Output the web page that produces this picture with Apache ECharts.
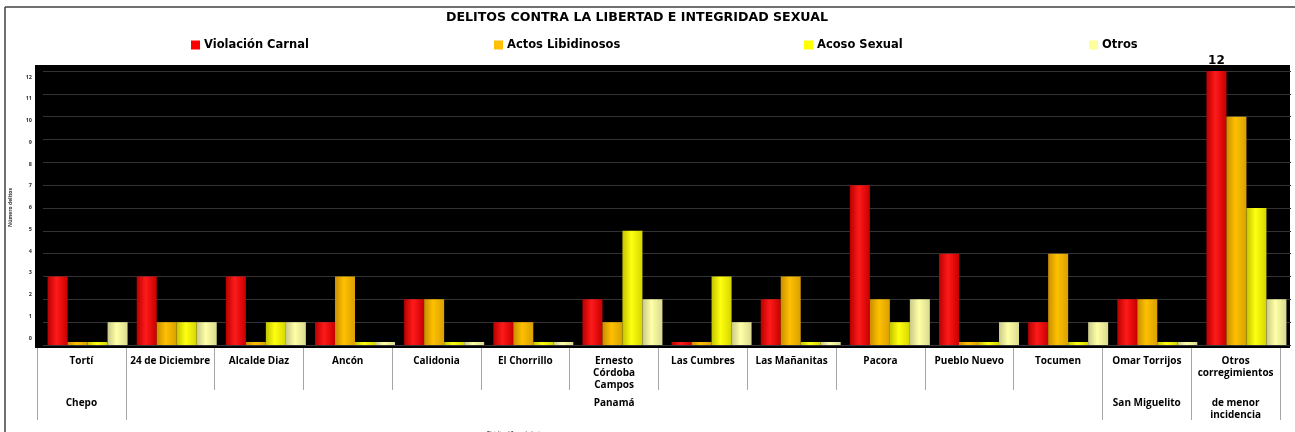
<!DOCTYPE html>
<html>
<head>
<meta charset="utf-8">
<script src="https://cdn.jsdelivr.net/npm/echarts@6/dist/echarts.min.js"></script>
<style>
  html, body { margin: 0; padding: 0; background: #fff; }
  #chart { width: 1295px; height: 432px; }
</style>
</head>
<body>
<div id="chart"></div>
<script>
const categories = ['Tortí', '24 de Diciembre', 'Alcalde Diaz', 'Ancón', 'Calidonia', 'El Chorrillo', 'Ernesto\nCórdoba\nCampos', 'Las Cumbres', 'Las Mañanitas', 'Pacora', 'Pueblo Nuevo', 'Tocumen', 'Omar Torrijos', 'Otros\ncorregimientos']
const districts = ['Chepo', '', '', '', '', '', 'Panamá', '', '', '', '', '', 'San Miguelito', 'de menor\nincidencia']
const districtBreaks = [0, 1, 12, 13]
const violacion = [3, 3, 3, 1, 2, 1, 2, 0, 2, 7, 4, 1, 2, 12]
const actos = [0, 1, 0, 3, 2, 1, 1, 0, 3, 2, 0, 4, 2, 10]
const acoso = [0, 1, 1, 0, 0, 0, 5, 3, 0, 1, 0, 0, 0, 6]
const otros = [1, 1, 1, 0, 0, 0, 2, 1, 0, 2, 1, 1, 0, 2]
const yTicks = [0, 12, 1]

const FONT = '"Open Sans", "Liberation Sans", sans-serif'
const WIDE = '"DejaVu Sans", Verdana, sans-serif'

const cylinder = (edge, mid, edge2) => new echarts.graphic.LinearGradient(0, 0, 1, 0, [
  { offset: 0, color: edge },
  { offset: 0.45, color: mid },
  { offset: 1, color: edge2 }
])

const seriesDefs = [
  { name: 'Violación Carnal', data: violacion, flat: '#ff0000', fill: cylinder('#b80000', '#ff1a1a', '#c80000') },
  { name: 'Actos Libidinosos', data: actos, flat: '#ffc000', fill: cylinder('#c98e00', '#ffc000', '#d9a000') },
  { name: 'Acoso Sexual', data: acoso, flat: '#ffff00', fill: cylinder('#c4c400', '#ffff10', '#d6d600') },
  { name: 'Otros', data: otros, flat: '#ffff99', fill: cylinder('#c9c98a', '#ffffa6', '#dada90') }
]
const legendLeft = [191, 494, 804, 1089]

const chart = echarts.init(document.getElementById('chart'))

const maxVal = Math.max(...violacion)

const option = {
  animation: false,
  backgroundColor: '#fff',
  textStyle: { fontFamily: FONT },
  title: [
    {
      text: 'DELITOS CONTRA LA LIBERTAD E INTEGRIDAD SEXUAL',
      left: 446, top: 11, padding: 0,
      textStyle: { fontSize: 12.6, fontWeight: 'bold', color: '#000', fontFamily: WIDE }
    },
    {
      text: 'Distritos / Corregimientos',
      left: 482, top: 426,
      textStyle: { fontSize: 4.5, fontWeight: 'bold', color: '#333', fontFamily: FONT }
    }
  ],
  legend: seriesDefs.map((s, i) => ({
    data: [{ name: s.name, itemStyle: { color: s.flat } }],
    left: legendLeft[i], top: 39, padding: 0,
    itemWidth: 9, itemHeight: 9, itemGap: 5,
    icon: 'rect',
    textStyle: { fontSize: 11.5, fontWeight: 'bold', color: '#000', fontFamily: WIDE, padding: [0, 0, 0, -1] }
  })),
  graphic: [
    { type: 'rect', z: -10, shape: { x: 35, y: 65, width: 1255, height: 283 }, style: { fill: '#000' } },
    { type: 'line', shape: { x1: 5, y1: 7, x2: 1295, y2: 7 }, style: { stroke: '#404040', lineWidth: 1.5 } },
    { type: 'line', shape: { x1: 5, y1: 7, x2: 5, y2: 432 }, style: { stroke: '#404040', lineWidth: 1.5 } }
  ],
  grid: [
    { left: 43, right: 4, top: 71, bottom: 87 },
    { left: 37, right: 15, top: 71, bottom: 84 },
    { left: 37, right: 15, top: 77, bottom: 94 }
  ],
  xAxis: [
    { type: 'category', gridIndex: 0, data: categories, show: false },
    {
      type: 'category', gridIndex: 1, data: categories, position: 'bottom',
      axisLine: { show: false },
      axisTick: { show: true, length: 42, alignWithLabel: false, lineStyle: { color: '#a6a6a6' } },
      axisLabel: { interval: 0, margin: 7, fontSize: 10, fontWeight: 'bold', lineHeight: 12, color: '#000', verticalAlign: 'top', fontFamily: FONT }
    },
    {
      type: 'category', gridIndex: 1, data: districts, position: 'bottom', offset: 42,
      axisLine: { show: false },
      axisTick: {
        show: true, length: 30, alignWithLabel: false,
        interval: (i) => districtBreaks.includes(i),
        lineStyle: { color: '#a6a6a6' }
      },
      axisLabel: { interval: 0, margin: 7, fontSize: 10, fontWeight: 'bold', lineHeight: 12, color: '#000', verticalAlign: 'top', fontFamily: FONT }
    },
    { type: 'value', gridIndex: 2, min: 0, max: 1, show: false }
  ],
  yAxis: [
    {
      type: 'value', gridIndex: 0, min: yTicks[0], max: yTicks[1], interval: yTicks[2],
      axisLabel: { show: false }, axisLine: { show: false }, axisTick: { show: false },
      splitLine: { lineStyle: { color: '#333333', width: 1 } }
    },
    { type: 'value', gridIndex: 1, min: 0, max: 1, show: false },
    {
      type: 'value', gridIndex: 2, min: yTicks[0], max: yTicks[1], interval: yTicks[2],
      name: 'Número delitos', nameLocation: 'middle', nameRotate: 90, nameGap: 25,
      nameTextStyle: { fontSize: 5, fontWeight: 'bold', color: '#333', fontFamily: FONT },
      axisLabel: { fontSize: 5.5, fontWeight: 'bold', color: '#333', margin: 6, fontFamily: FONT },
      axisLine: { show: false }, axisTick: { show: false }, splitLine: { show: false }
    }
  ],
  series: seriesDefs.map((s, i) => ({
    name: s.name,
    type: 'bar',
    xAxisIndex: 0,
    yAxisIndex: 0,
    barWidth: 20,
    barGap: '0%',
    barMinHeight: 3,
    itemStyle: { color: s.fill },
    data: s.data.map(v => (i === 0 && v === maxVal)
      ? { value: v, label: { show: true, position: 'top', distance: 4, fontSize: 12, fontWeight: 'bold', color: '#000', fontFamily: WIDE } }
      : v)
  }))
}

chart.setOption(option)
</script>
</body>
</html>
